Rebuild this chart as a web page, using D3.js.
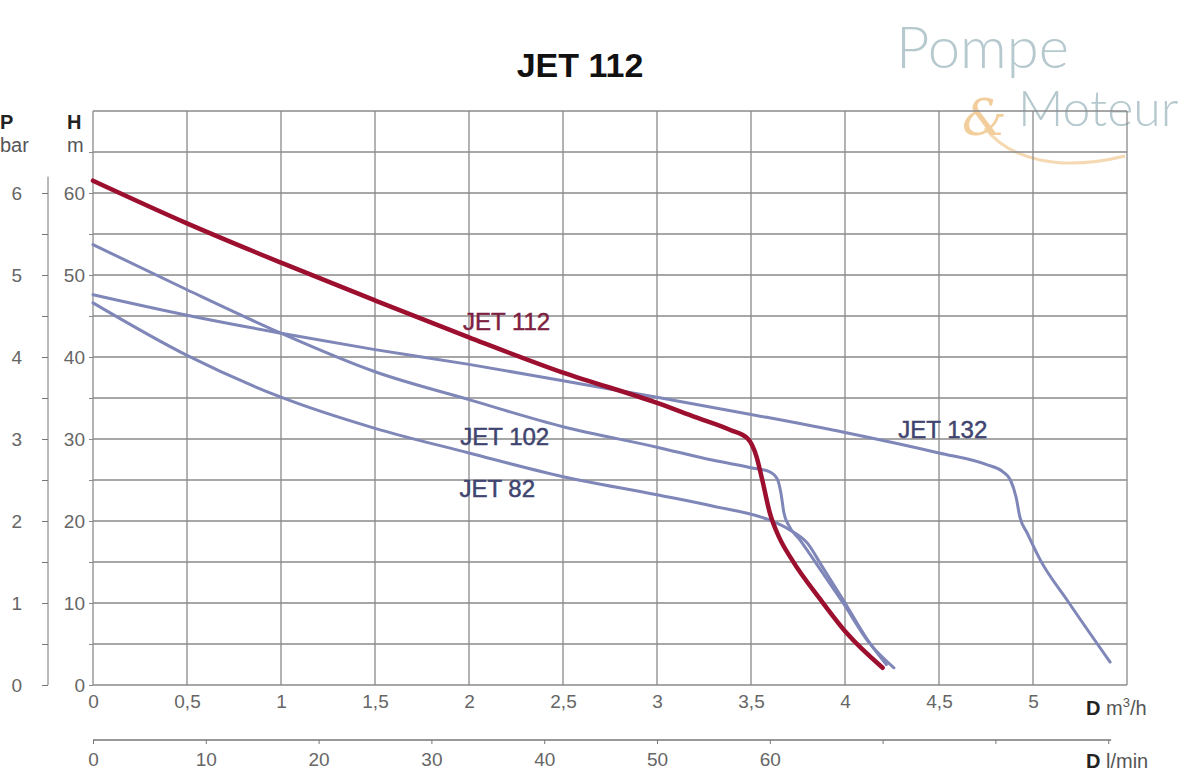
<!DOCTYPE html>
<html>
<head>
<meta charset="utf-8">
<script src="https://cdn.jsdelivr.net/npm/d3@7"></script>
<style>
  body { margin: 0; background: #fff; }
  svg { font-family: "Liberation Sans", Arial, sans-serif; }
</style>
</head>
<body>
<svg id="chart" width="1200" height="771"></svg>
<script>
// ── Data ──
const flowTicks = [0, 0.5, 1, 1.5, 2, 2.5, 3, 3.5, 4, 4.5, 5];
const headTicks = [0, 10, 20, 30, 40, 50, 60];
const pressureTicks = [0, 1, 2, 3, 4, 5, 6];
const lminTicks = [0, 10, 20, 30, 40, 50, 60, 70, 80, 90];
const lminLabels = [0, 10, 20, 30, 40, 50, 60];

const jet112Q = [0, 0.5, 1, 1.5, 2, 2.5, 3, 3.2, 3.39, 3.48, 3.53, 3.56, 3.6, 3.65, 3.72, 3.87, 4.01, 4.2];
const jet112H = [61.5, 56.3, 51.5, 46.9, 42.4, 38.1, 34.4, 32.7, 31.1, 30.1, 27.8, 25.0, 21.0, 18.0, 15.2, 10.4, 6.3, 2.1];

const jet102Q = [0, 0.5, 1, 1.5, 2, 2.5, 3, 3.3, 3.5, 3.6, 3.64, 3.66, 3.675, 3.7, 3.76, 3.88, 3.99, 4.13, 4.26];
const jet102H = [53.7, 48.2, 42.9, 38.2, 34.8, 31.5, 29.0, 27.4, 26.5, 26.0, 25.1, 23.3, 21.0, 19.5, 17.7, 13.7, 10.0, 5.1, 2.1];

const jet82Q = [0, 0.5, 1, 1.5, 2, 2.5, 3, 3.3, 3.6, 3.7, 3.8, 3.88, 3.99, 4.12, 4.22];
const jet82H = [46.6, 40.2, 35.1, 31.3, 28.3, 25.4, 23.2, 21.8, 20.1, 19.0, 17.3, 14.4, 10.4, 5.5, 2.5];

const jet132Q = [0, 0.5, 1, 1.5, 2, 2.5, 3, 3.5, 4, 4.5, 4.75, 4.84, 4.88, 4.91, 4.93, 4.97, 5.04, 5.18, 5.41];
const jet132H = [47.6, 45.1, 42.9, 40.9, 39.1, 37.1, 35.1, 33.0, 30.8, 28.3, 26.9, 26.0, 25.0, 22.9, 20.5, 18.5, 15.2, 10.4, 2.8];

const seriesNames = ['JET 82', 'JET 102', 'JET 132', 'JET 112'];
const labelQ = [2.15, 2.19, 4.52, 2.2];
const labelH = [22.9, 29.3, 30.1, 43.3];

// ── Setup ──
const svg = d3.select('#chart');
const x = d3.scaleLinear().domain([0, 5.5]).range([93, 1127]);
const y = d3.scaleLinear().domain([0, 70]).range([685, 111]);
const p = d3.scaleLinear().domain([0, 7]).range([685, 111]);
const xl = d3.scaleLinear().domain([0, 5.5 * 1000 / 60]).range([93, 1127]);
const comma = v => String(v).replace('.', ',');

// ── Logo (behind grid) ──
const logo = svg.append('g').attr('opacity', 0.85);
logo.append('path')
  .attr('d', 'M985,128 C1010,160 1060,172 1125,156')
  .attr('fill', 'none').attr('stroke', '#f3d3a6').attr('stroke-width', 3);
logo.append('text').attr('x', 896).attr('y', 68)
  .attr('fill', '#a9c0c6').style('font-family', 'Lato, sans-serif')
  .style('font-weight', 300).style('font-size', '58px').text('Pompe');
logo.append('text').attr('x', 962).attr('y', 135)
  .attr('fill', '#f0c68c').style('font-family', '"DejaVu Serif", serif')
  .style('font-style', 'italic').style('font-size', '50px').text('&');
logo.append('text').attr('x', 1018).attr('y', 126)
  .attr('fill', '#a9c0c6').style('font-family', 'Lato, sans-serif')
  .style('font-weight', 300).style('font-size', '50px').text('Moteur');

// ── Grid ──
const gridColor = '#8a8a8a';
svg.append('g').selectAll('line')
  .data(d3.range(0, 5.51, 0.5)).enter().append('line')
  .attr('x1', d => x(d)).attr('x2', d => x(d))
  .attr('y1', y(0)).attr('y2', y(70))
  .attr('stroke', gridColor).attr('stroke-width', 1.3);
svg.append('g').selectAll('line')
  .data(d3.range(0, 70.1, 5)).enter().append('line')
  .attr('x1', x(0)).attr('x2', x(5.5))
  .attr('y1', d => y(d)).attr('y2', d => y(d))
  .attr('stroke', gridColor).attr('stroke-width', 1.3);

// ── Axes ──
const hAxis = svg.append('g').attr('transform', `translate(${x(0)},0)`)
  .call(d3.axisLeft(y).tickValues(d3.range(0, 66, 5)).tickSize(4).tickPadding(4)
    .tickFormat(d => headTicks.includes(d) ? d : ''));
hAxis.select('.domain').remove();
hAxis.selectAll('line').attr('stroke', gridColor);
hAxis.selectAll('text').attr('fill', '#666').style('font-size', '19px')
  .style('font-family', '"Liberation Sans", Arial, sans-serif');

const pAxis = svg.append('g').attr('transform', 'translate(48,0)')
  .call(d3.axisLeft(p).tickValues(d3.range(0, 6.1, 0.5)).tickSize(6).tickPadding(20)
    .tickFormat(d => pressureTicks.includes(d) ? d : ''));
pAxis.select('.domain').remove();
pAxis.append('line').attr('y1', p(0)).attr('y2', p(6.2)).attr('stroke', '#777');
pAxis.selectAll('line').attr('stroke', '#777');
pAxis.selectAll('text').attr('fill', '#666').style('font-size', '19px')
  .style('font-family', '"Liberation Sans", Arial, sans-serif');

const qAxis = svg.append('g').attr('transform', `translate(0,${y(0)})`)
  .call(d3.axisBottom(x).tickValues(flowTicks).tickSize(0).tickPadding(10).tickFormat(comma));
qAxis.select('.domain').remove();
qAxis.selectAll('text').attr('fill', '#666').style('font-size', '19px')
  .style('font-family', '"Liberation Sans", Arial, sans-serif');

const lAxis = svg.append('g').attr('transform', 'translate(0,740)')
  .call(d3.axisBottom(xl).tickValues(lminTicks).tickSize(4).tickPadding(9)
    .tickFormat(d => lminLabels.includes(d) ? d : ''));
lAxis.select('.domain').remove();
lAxis.append('line').attr('x1', xl(0)).attr('x2', xl(90) + 3).attr('stroke', '#777').attr('stroke-width', 1.3);
lAxis.selectAll('line').attr('stroke', '#777');
lAxis.selectAll('text').attr('fill', '#666').style('font-size', '19px')
  .style('font-family', '"Liberation Sans", Arial, sans-serif');

// ── Axis titles ──
const axisTitle = (tx, ty, bold, rest) => {
  const t = svg.append('text').attr('x', tx).attr('y', ty).attr('fill', '#333').style('font-size', '20px');
  t.append('tspan').style('font-weight', 'bold').attr('fill', '#222').text(bold);
  if (rest) t.append('tspan').text(rest);
  return t;
};
axisTitle(0, 129, 'P');
axisTitle(0, 152, '', 'bar').attr('fill', '#555');
axisTitle(67, 129, 'H');
axisTitle(67, 152, '', 'm').attr('fill', '#555');

const dm3 = svg.append('text').attr('x', 1086).attr('y', 715).attr('fill', '#555').style('font-size', '20px');
dm3.append('tspan').style('font-weight', 'bold').attr('fill', '#222').text('D');
dm3.append('tspan').text(' m');
dm3.append('tspan').attr('dy', -8).style('font-size', '13px').text('3');
dm3.append('tspan').attr('dy', 8).text('/h');

const dl = svg.append('text').attr('x', 1086).attr('y', 768).attr('fill', '#555').style('font-size', '20px');
dl.append('tspan').style('font-weight', 'bold').attr('fill', '#222').text('D');
dl.append('tspan').text(' l/min');

// ── Title ──
svg.append('text').attr('x', 580).attr('y', 77).attr('text-anchor', 'middle')
  .attr('fill', '#111').style('font-size', '34px').style('font-weight', 'bold').text('JET 112');

// ── Curves ──
const lineGen = d3.line().x(d => x(d[0])).y(d => y(d[1])).curve(d3.curveMonotoneX);
const zip = (q, h) => q.map((v, i) => [v, h[i]]);
const curves = [
  { data: zip(jet82Q, jet82H), color: '#7f86b8', w: 3 },
  { data: zip(jet102Q, jet102H), color: '#7f86b8', w: 3 },
  { data: zip(jet132Q, jet132H), color: '#7f86b8', w: 3 },
  { data: zip(jet112Q, jet112H), color: '#9c0f2f', w: 4.5 }
];
curves.forEach(c => {
  svg.append('path').datum(c.data)
    .attr('fill', 'none').attr('stroke', c.color)
    .attr('stroke-width', c.w).attr('stroke-linecap', 'round')
    .attr('d', lineGen);
});

// ── Curve labels ──
seriesNames.forEach((name, i) => {
  svg.append('text')
    .attr('x', x(labelQ[i])).attr('y', y(labelH[i]))
    .attr('text-anchor', 'middle')
    .attr('fill', name === 'JET 112' ? '#7e1f42' : '#3f4470')
    .attr('stroke', name === 'JET 112' ? '#7e1f42' : '#3f4470')
    .attr('stroke-width', 0.5)
    .style('font-size', '24px')
    .text(name);
});
</script>
</body>
</html>
